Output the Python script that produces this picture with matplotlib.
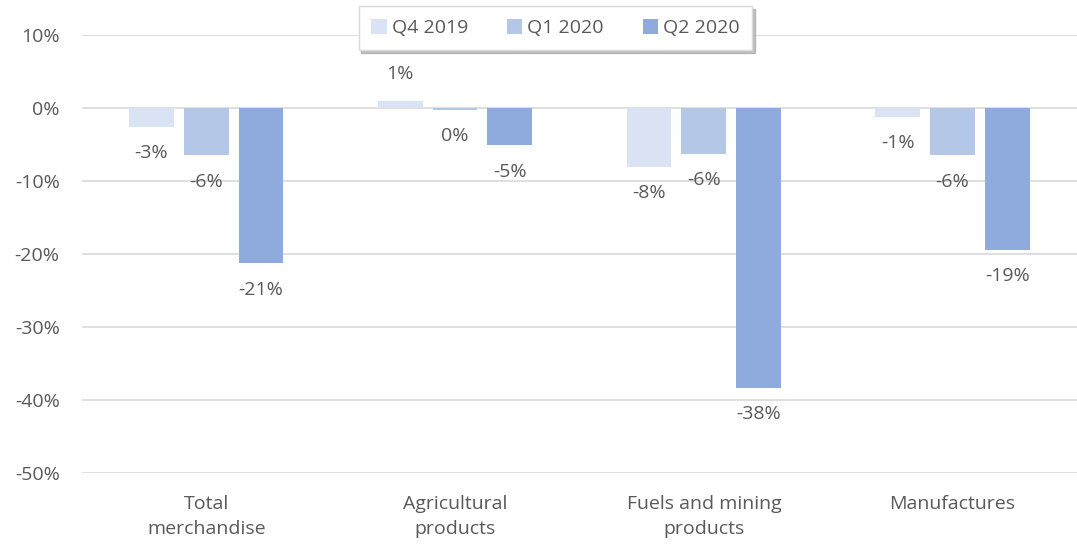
import matplotlib.pyplot as plt
import numpy as np

categories = ['Total\nmerchandise', 'Agricultural\nproducts', 'Fuels and mining\nproducts', 'Manufactures']
series = ['Q4 2019', 'Q1 2020', 'Q2 2020']
q4_2019 = [-2.6, 1.0, -8.1, -1.2]
q1_2020 = [-6.5, -0.3, -6.3, -6.5]
q2_2020 = [-21.3, -5.1, -38.3, -19.4]
colors = ['#dae3f3', '#b4c7e7', '#8faadc']

plt.rcParams['font.family'] = ['Open Sans', 'DejaVu Sans']
txt = '#595959'
fs = 14

fig = plt.figure(figsize=(10.77, 5.45), dpi=100)
ax = fig.add_axes([0.076, 0.132, 0.924, 0.804])

x = np.arange(len(categories))
width = 0.18
step = 0.22
for i, (name, vals) in enumerate(zip(series, [q4_2019, q1_2020, q2_2020])):
    pos = x + (i - 1) * step
    ax.bar(pos, vals, width, color=colors[i], label=name, zorder=3)
    for p, v in zip(pos, vals):
        off = 19 if v > 0 else -19
        ax.annotate('%d%%' % round(v), (p, v), xytext=(0, off), textcoords='offset points',
                    ha='center', va='center', fontsize=fs, color=txt)

ax.set_ylim(-50, 10)
ax.set_xlim(-0.5, 3.5)
ax.set_yticks(range(-50, 11, 10))
ax.set_yticklabels(['%d%%' % t for t in range(-50, 11, 10)])
ax.set_xticks(x)
ax.set_xticklabels(categories, linespacing=1.45)
ax.tick_params(length=0, labelsize=fs, colors=txt)
ax.tick_params(axis='y', pad=16)
ax.tick_params(axis='x', pad=16)
ax.grid(axis='y', color='#d9d9d9', lw=1.2, zorder=0)
for s in ax.spines.values():
    s.set_visible(False)

leg = ax.legend(loc='upper center', bbox_to_anchor=(0.476, 1.052), ncol=3, frameon=True,
                fancybox=False, shadow={'color': '#999999', 'alpha': 0.6}, fontsize=fs,
                handlelength=0.8, handleheight=0.8, handletextpad=0.25, columnspacing=2.0,
                borderpad=0.35, borderaxespad=0, edgecolor='#d9d9d9')
for t in leg.get_texts():
    t.set_color(txt)
leg.get_frame().set_boxstyle('square', pad=0.3)

plt.savefig('out.png', dpi=100)
